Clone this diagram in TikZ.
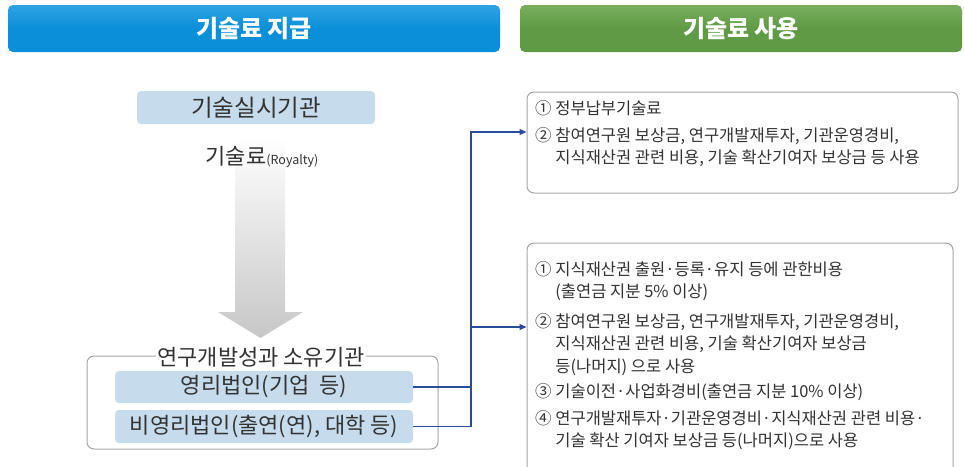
\documentclass[tikz,border=0pt]{standalone}
\usepackage{fontspec}
\setmainfont{Noto Sans CJK KR}
\usetikzlibrary{arrows.meta}
\definecolor{hblue}{HTML}{0A8FD8}
\definecolor{hblueT}{HTML}{2FA3E4}
\definecolor{hgreen}{HTML}{5F9A44}
\definecolor{hgreenT}{HTML}{78AE5E}
\definecolor{lblue}{HTML}{C6DCEC}
\definecolor{txt}{HTML}{333333}
\definecolor{conn}{HTML}{2B4C9A}
\definecolor{frame}{HTML}{A6A6A6}
\tikzset{
  header/.style={rounded corners=5pt, minimum height=47pt, text=white, font=\fontsize{24}{28}\selectfont\bfseries, inner sep=0pt},
  lbox/.style={fill=lblue, rounded corners=4pt, inner sep=0pt, text=txt, font=\fontsize{22}{26}\selectfont},
  frm/.style={draw=frame, line width=1pt, rounded corners=7pt, fill=white},
  item/.style={anchor=north west, inner sep=0pt, text=txt, font=\fontsize{16.5}{22.5}\selectfont, align=left},
  link/.style={draw=conn, line width=1.3pt},
}
\begin{document}
\begin{tikzpicture}[x=1pt,y=-1pt]
\useasboundingbox (0,0) rectangle (964,466);
% headers
\node[header, minimum width=492pt, top color=hblueT, bottom color=hblue, middle color=hblue] (h1) at (254,28.5) {기술료 지급};
\node[header, minimum width=442pt, top color=hgreenT, bottom color=hgreen, middle color=hgreen] (h2) at (741,28.5) {기술료 사용};
% implementing org
\node[lbox, minimum width=238pt, minimum height=33pt, font=\fontsize{23.5}{27}\selectfont] (impl) at (256,107.5) {기술실시기관};
% big gradient arrow
\shade[top color=white, bottom color=black!22] (235,137) -- (285,137) -- (285,312) -- (303,312) -- (260.5,338) -- (218,312) -- (235,312) -- cycle;
\node[text=txt, inner sep=0pt, font=\fontsize{22}{24}\selectfont] (roy) at (262,157) {기술료{\fontsize{12.5}{15}\selectfont(Royalty)}};
% owner group
\node[frm, minimum width=351pt, minimum height=93pt] (grp) at (262.5,402.5) {};
\node[fill=white, inner sep=1pt, text=txt, font=\fontsize{22}{26}\selectfont] (grpt) at (261,357) {연구개발성과 소유기관};
\node[lbox, minimum width=298pt, minimum height=32pt] (fp) at (264,387) {영리법인(기업\ \ 등)};
\node[lbox, minimum width=298pt, minimum height=33pt] (np) at (264,426.5) {비영리법인(출연(연), 대학 등)};
% usage boxes
\node[frm, minimum width=431pt, minimum height=101pt] (u1) at (742.5,142.5) {};
\node[frm, minimum width=426pt, minimum height=240pt] (u2) at (740,363) {};
% texts in usage boxes
\node[item] (u1a) at (535,100) {① 정부납부기술료};
\node[item] (u1b) at (535,127) {② 참여연구원 보상금, 연구개발재투자, 기관운영경비,\\\phantom{②} 지식재산권 관련 비용, 기술 확산기여자 보상금 등 사용};
\node[item] (u2a) at (535,261) {① 지식재산권 출원·등록·유지 등에 관한비용\\\phantom{①} (출연금 지분 5\% 이상)};
\node[item] (u2b) at (535,313) {② 참여연구원 보상금, 연구개발재투자, 기관운영경비,\\\phantom{②} 지식재산권 관련 비용, 기술 확산기여자 보상금\\\phantom{②} 등(나머지) 으로 사용};
\node[item] (u2c) at (535,383) {③ 기술이전·사업화경비(출연금 지분 10\% 이상)};
\node[item] (u2d) at (535,410) {④ 연구개발재투자·기관운영경비·지식재산권 관련 비용·\\\phantom{④} 기술 확산 기여자 보상금 등(나머지)으로 사용};
% connectors
\coordinate (tt) at (471,132);
\coordinate (tb) at (471,327);
\draw[link] (fp.east) -- (fp.east -| tt);
\draw[link, -{Triangle[length=7pt,width=6pt]}] (np.east) -| (tt) -- (tt -| u1.west);
\draw[link, -{Triangle[length=7pt,width=6pt]}] (tb) -- (tb -| u2.west);
\end{tikzpicture}
\end{document}
